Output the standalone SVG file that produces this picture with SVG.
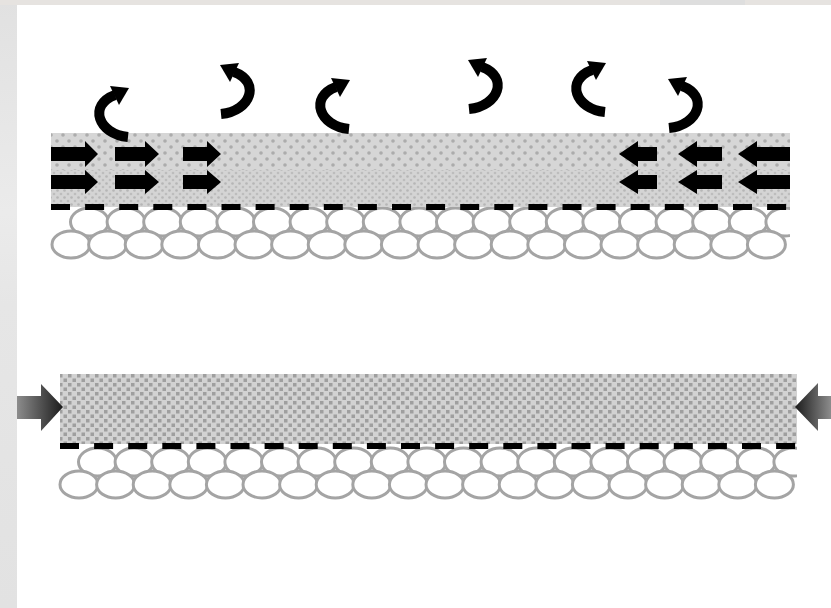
<svg xmlns="http://www.w3.org/2000/svg" xmlns:xlink="http://www.w3.org/1999/xlink" width="831" height="608" viewBox="0 0 831 608">
  <style>
    .cell { fill: #ffffff; stroke: #a4a4a4; stroke-width: 3; }
    .dash { fill: #000; }
    .push { fill: #000; }
    .curl { fill: none; stroke: #000; stroke-width: 10; stroke-linecap: butt; }
    .curlhead { fill: #000; }
  </style>
  <defs>
    <!-- coarse dot texture of the upper film band -->
    <pattern id="dotsA" width="12" height="12" patternUnits="userSpaceOnUse">
      <rect width="12" height="12" fill="#d6d6d6"/>
      <circle cx="3" cy="3" r="1.8" fill="#acacac"/>
      <circle cx="9" cy="9" r="1.8" fill="#acacac"/>
    </pattern>
    <!-- fine speckle of the lower film band -->
    <pattern id="dotsB" width="7" height="7" patternUnits="userSpaceOnUse">
      <rect width="7" height="7" fill="#d4d4d4"/>
      <circle cx="1.5" cy="1.5" r="1.3" fill="#b6b6b6"/>
      <circle cx="5" cy="5" r="1.3" fill="#bdbdbd"/>
    </pattern>
    <!-- square-check texture of the compact film -->
    <pattern id="checks" width="9" height="9" patternUnits="userSpaceOnUse">
      <rect width="9" height="9" fill="#d2d2d2"/>
      <rect x="0.5" y="0.5" width="3.5" height="3.5" fill="#9f9f9f"/>
      <rect x="5" y="5" width="3.5" height="3.5" fill="#9f9f9f"/>
    </pattern>
    <linearGradient id="pushL" x1="17" y1="0" x2="63" y2="0" gradientUnits="userSpaceOnUse">
      <stop offset="0" stop-color="#8c8c8c"/>
      <stop offset="1" stop-color="#1c1c1c"/>
    </linearGradient>
    <linearGradient id="pushR" x1="795" y1="0" x2="831" y2="0" gradientUnits="userSpaceOnUse">
      <stop offset="0" stop-color="#1c1c1c"/>
      <stop offset="1" stop-color="#8c8c8c"/>
    </linearGradient>
    <linearGradient id="sideStrip" x1="0" y1="0" x2="0" y2="608" gradientUnits="userSpaceOnUse">
      <stop offset="0" stop-color="#e1e1e1"/>
      <stop offset="0.35" stop-color="#ebebeb"/>
      <stop offset="0.5" stop-color="#e6e6e6"/>
      <stop offset="1" stop-color="#e2e2e2"/>
    </linearGradient>
    <!-- cell mesh: the upper row sits behind the lower row -->
    <ellipse id="cellUp" class="cell" cx="89.5" cy="222" rx="19" ry="14"/>
    <ellipse id="cellLow" class="cell" cx="71" cy="244.5" rx="19" ry="13.5"/>
    <g id="rowUp">
      <use xlink:href="#cellUp" x="0"/>
      <use xlink:href="#cellUp" x="36.6"/>
      <use xlink:href="#cellUp" x="73.2"/>
      <use xlink:href="#cellUp" x="109.8"/>
      <use xlink:href="#cellUp" x="146.4"/>
      <use xlink:href="#cellUp" x="183"/>
      <use xlink:href="#cellUp" x="219.6"/>
      <use xlink:href="#cellUp" x="256.2"/>
      <use xlink:href="#cellUp" x="292.8"/>
      <use xlink:href="#cellUp" x="329.4"/>
      <use xlink:href="#cellUp" x="366"/>
      <use xlink:href="#cellUp" x="402.6"/>
      <use xlink:href="#cellUp" x="439.2"/>
      <use xlink:href="#cellUp" x="475.8"/>
      <use xlink:href="#cellUp" x="512.4"/>
      <use xlink:href="#cellUp" x="549"/>
      <use xlink:href="#cellUp" x="585.6"/>
      <use xlink:href="#cellUp" x="622.2"/>
      <use xlink:href="#cellUp" x="658.8"/>
      <use xlink:href="#cellUp" x="695.4"/>
    </g>
    <g id="rowLow">
      <use xlink:href="#cellLow" x="0"/>
      <use xlink:href="#cellLow" x="36.6"/>
      <use xlink:href="#cellLow" x="73.2"/>
      <use xlink:href="#cellLow" x="109.8"/>
      <use xlink:href="#cellLow" x="146.4"/>
      <use xlink:href="#cellLow" x="183"/>
      <use xlink:href="#cellLow" x="219.6"/>
      <use xlink:href="#cellLow" x="256.2"/>
      <use xlink:href="#cellLow" x="292.8"/>
      <use xlink:href="#cellLow" x="329.4"/>
      <use xlink:href="#cellLow" x="366"/>
      <use xlink:href="#cellLow" x="402.6"/>
      <use xlink:href="#cellLow" x="439.2"/>
      <use xlink:href="#cellLow" x="475.8"/>
      <use xlink:href="#cellLow" x="512.4"/>
      <use xlink:href="#cellLow" x="549"/>
      <use xlink:href="#cellLow" x="585.6"/>
      <use xlink:href="#cellLow" x="622.2"/>
      <use xlink:href="#cellLow" x="658.8"/>
      <use xlink:href="#cellLow" x="695.4"/>
    </g>
    <g id="cellMesh">
      <use xlink:href="#rowUp"/>
      <use xlink:href="#rowLow"/>
    </g>
    <!-- dashed membrane line, 22 dashes -->
    <g id="dashRow">
      <rect class="dash" x="0" y="0" width="19" height="6"/>
      <rect class="dash" x="34.1" y="0" width="19" height="6"/>
      <rect class="dash" x="68.2" y="0" width="19" height="6"/>
      <rect class="dash" x="102.3" y="0" width="19" height="6"/>
      <rect class="dash" x="136.4" y="0" width="19" height="6"/>
      <rect class="dash" x="170.5" y="0" width="19" height="6"/>
      <rect class="dash" x="204.6" y="0" width="19" height="6"/>
      <rect class="dash" x="238.7" y="0" width="19" height="6"/>
      <rect class="dash" x="272.8" y="0" width="19" height="6"/>
      <rect class="dash" x="306.9" y="0" width="19" height="6"/>
      <rect class="dash" x="341" y="0" width="19" height="6"/>
      <rect class="dash" x="375.1" y="0" width="19" height="6"/>
      <rect class="dash" x="409.2" y="0" width="19" height="6"/>
      <rect class="dash" x="443.3" y="0" width="19" height="6"/>
      <rect class="dash" x="477.4" y="0" width="19" height="6"/>
      <rect class="dash" x="511.5" y="0" width="19" height="6"/>
      <rect class="dash" x="545.6" y="0" width="19" height="6"/>
      <rect class="dash" x="579.7" y="0" width="19" height="6"/>
      <rect class="dash" x="613.8" y="0" width="19" height="6"/>
      <rect class="dash" x="647.9" y="0" width="19" height="6"/>
      <rect class="dash" x="682" y="0" width="19" height="6"/>
      <rect class="dash" x="716.1" y="0" width="19" height="6"/>
    </g>
    <!-- curled evaporation arrow, origin at its lower tail -->
    <g id="curl">
      <path class="curl" d="M 0 0 C -30 -3, -40 -32, -13 -42"/>
      <polygon class="curlhead" points="1,-49 -18,-51 -9,-32"/>
    </g>
    <clipPath id="clipTop"><rect x="40" y="200" width="750" height="70"/></clipPath>
    <clipPath id="clipBottom"><rect x="50" y="440" width="747" height="70"/></clipPath>
  </defs>

  <!-- backdrop -->
  <rect width="831" height="608" fill="url(#sideStrip)"/>
  <rect x="0" y="0" width="831" height="5" fill="#e6e3e0"/>
  <rect x="660" y="0" width="85" height="5" fill="#dedede"/>
  <rect x="17" y="5" width="814" height="603" fill="#ffffff"/>

  <!-- wet film on substrate -->
  <g id="wet-substrate" clip-path="url(#clipTop)">
    <use xlink:href="#cellMesh"/>
  </g>
  <g id="wet-film">
    <rect x="51" y="133" width="739" height="38" fill="url(#dotsA)"/>
    <rect x="51" y="170" width="739" height="37" fill="url(#dotsB)"/>
    <use xlink:href="#dashRow" x="51" y="204"/>
  </g>

  <!-- compacted film on substrate -->
  <g id="dry-substrate" clip-path="url(#clipBottom)">
    <use xlink:href="#cellMesh" transform="translate(8,240)"/>
  </g>
  <g id="dry-film">
    <rect x="60" y="374" width="737" height="70" fill="url(#checks)"/>
    <use xlink:href="#dashRow" x="60" y="443"/>
  </g>

  <g id="connectors">
    <!-- inward flow, left side -->
    <polygon class="push" points="51,147 85,147 85,141 98,154 85,167 85,161 51,161"/>
    <polygon class="push" points="115,147 145,147 145,141 159,154 145,167 145,161 115,161"/>
    <polygon class="push" points="183,147 207,147 207,141 221,154 207,167 207,161 183,161"/>
    <polygon class="push" points="51,175 85,175 85,170 98,182 85,194 85,189 51,189"/>
    <polygon class="push" points="115,175 145,175 145,170 159,182 145,194 145,189 115,189"/>
    <polygon class="push" points="183,175 207,175 207,170 221,182 207,194 207,189 183,189"/>
    <!-- inward flow, right side -->
    <polygon class="push" points="657,147 638,147 638,141 619,154 638,167 638,161 657,161"/>
    <polygon class="push" points="722,147 697,147 697,141 678,154 697,167 697,161 722,161"/>
    <polygon class="push" points="790,147 757,147 757,141 738,154 757,167 757,161 790,161"/>
    <polygon class="push" points="657,175 638,175 638,170 619,182 638,194 638,189 657,189"/>
    <polygon class="push" points="722,175 697,175 697,170 678,182 697,194 697,189 722,189"/>
    <polygon class="push" points="790,175 757,175 757,170 738,182 757,194 757,189 790,189"/>
    <!-- evaporation curls -->
    <use xlink:href="#curl" transform="translate(128,137)"/>
    <use xlink:href="#curl" transform="translate(221,114) scale(-1,1)"/>
    <use xlink:href="#curl" transform="translate(349,129)"/>
    <use xlink:href="#curl" transform="translate(469,109) scale(-1,1)"/>
    <use xlink:href="#curl" transform="translate(605,112)"/>
    <use xlink:href="#curl" transform="translate(669,128) scale(-1,1)"/>
    <!-- lateral compression -->
    <polygon fill="url(#pushL)" points="17,396 41,396 41,384 63,407 41,431 41,419 17,419"/>
    <polygon fill="url(#pushR)" points="831,396 818,396 818,383 795,407 818,431 818,419 831,419"/>
  </g>
</svg>
